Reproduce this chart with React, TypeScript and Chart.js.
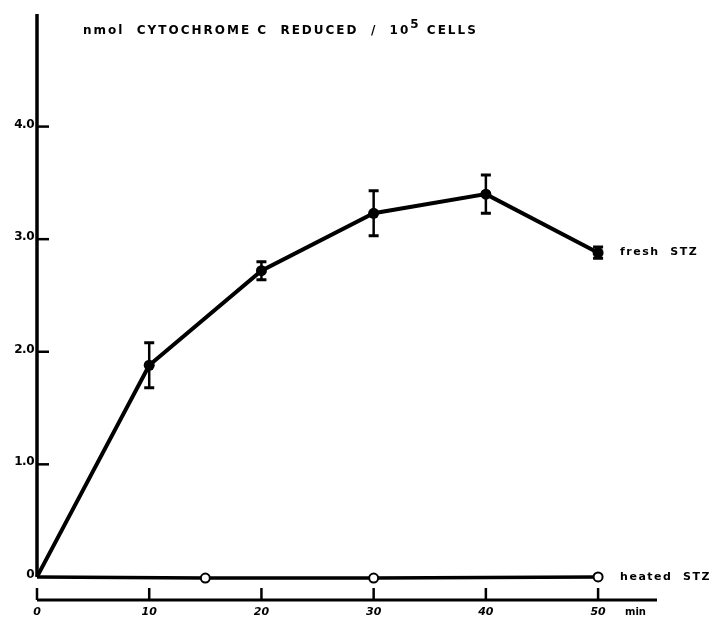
import { useEffect, useRef } from "react";
import { Chart, registerables } from "chart.js";

Chart.register(...registerables);

const times = [0, 10, 20, 30, 40, 50];
const freshValues = [0, 1.88, 2.72, 3.23, 3.4, 2.88];
const freshErrors = [0, 0.2, 0.08, 0.2, 0.17, 0.05];
const heatedTimes = [0, 15, 30, 50];
const heatedValues = [0, -0.01, -0.01, 0];
const yTicks = [0, 1, 2, 3, 4];
const yTickLabels = ["0", "1.0", "2.0", "3.0", "4.0"];
const xTicks = [0, 10, 20, 30, 40, 50];
const xTickLabels = ["0", "10", "20", "30", "40", "50"];
const xUnit = "min";
const freshLabel = "fresh  STZ";
const heatedLabel = "heated  STZ";

const FONT = '"DejaVu Sans", "Liberation Sans", Arial, sans-serif';

const axesPlugin = {
  id: "paperAxes",
  beforeDatasetsDraw(chart: any) {
    const ctx = chart.ctx as CanvasRenderingContext2D;
    const xs = chart.scales.x;
    const ys = chart.scales.y;
    const x0 = xs.getPixelForValue(0);
    ctx.save();
    ctx.strokeStyle = "#000";
    ctx.fillStyle = "#000";
    ctx.lineCap = "butt";
    // y axis
    ctx.lineWidth = 3.5;
    ctx.beginPath();
    ctx.moveTo(x0, ys.getPixelForValue(ys.max));
    ctx.lineTo(x0, ys.getPixelForValue(0));
    ctx.stroke();
    // y ticks
    ctx.lineWidth = 2.5;
    ctx.font = `bold 12px ${FONT}`;
    (ctx as any).letterSpacing = "-0.5px";
    ctx.textAlign = "right";
    ctx.textBaseline = "middle";
    yTicks.forEach((v, i) => {
      const py = ys.getPixelForValue(v);
      if (v !== 0) {
        ctx.beginPath();
        ctx.moveTo(x0, py);
        ctx.lineTo(x0 + 12, py);
        ctx.stroke();
      }
      ctx.fillText(yTickLabels[i], x0 - 3, py - 2);
    });
    (ctx as any).letterSpacing = "0px";
    // x axis
    const yb = ys.getPixelForValue(ys.min);
    ctx.lineWidth = 3;
    ctx.beginPath();
    ctx.moveTo(x0, yb);
    ctx.lineTo(xs.getPixelForValue(xs.max), yb);
    ctx.stroke();
    ctx.lineWidth = 2.5;
    ctx.font = `italic bold 11px ${FONT}`;
    ctx.textAlign = "center";
    ctx.textBaseline = "middle";
    xTicks.forEach((v, i) => {
      const px = xs.getPixelForValue(v);
      ctx.beginPath();
      ctx.moveTo(px, yb);
      ctx.lineTo(px, yb - 12);
      ctx.stroke();
      ctx.fillText(xTickLabels[i], px, yb + 12);
    });
    ctx.font = `bold 10px ${FONT}`;
    ctx.textAlign = "left";
    ctx.fillText(xUnit, xs.getPixelForValue(52.4), yb + 12);
    ctx.restore();
  },
  afterDatasetsDraw(chart: any) {
    const ctx = chart.ctx as CanvasRenderingContext2D;
    const xs = chart.scales.x;
    const ys = chart.scales.y;
    ctx.save();
    ctx.strokeStyle = "#000";
    ctx.lineCap = "butt";
    times.forEach((t, i) => {
      const e = freshErrors[i];
      if (!e) return;
      const px = xs.getPixelForValue(t);
      const top = ys.getPixelForValue(freshValues[i] + e);
      const bot = ys.getPixelForValue(freshValues[i] - e);
      ctx.lineWidth = 2.5;
      ctx.beginPath();
      ctx.moveTo(px, top);
      ctx.lineTo(px, bot);
      ctx.stroke();
      ctx.lineWidth = 3;
      ctx.beginPath();
      ctx.moveTo(px - 5, top);
      ctx.lineTo(px + 5, top);
      ctx.moveTo(px - 5, bot);
      ctx.lineTo(px + 5, bot);
      ctx.stroke();
    });
    ctx.fillStyle = "#000";
    ctx.font = `bold 11px ${FONT}`;
    (ctx as any).letterSpacing = "1.5px";
    ctx.textAlign = "left";
    ctx.textBaseline = "middle";
    const lx = xs.getPixelForValue(50) + 22;
    ctx.fillText(freshLabel, lx, ys.getPixelForValue(freshValues[5]) - 1);
    ctx.fillText(heatedLabel, lx, ys.getPixelForValue(heatedValues[3]));
    ctx.restore();
  },
};

export default function App() {
  const ref = useRef<HTMLCanvasElement | null>(null);
  useEffect(() => {
    document.body.style.margin = "0";
    const canvas = ref.current;
    if (!canvas) return;
    const chart = new Chart(canvas, {
      type: "line",
      data: {
        datasets: [
          {
            label: freshLabel,
            data: times.map((t, i) => ({ x: t, y: freshValues[i] })),
            borderColor: "#000",
            backgroundColor: "#000",
            borderWidth: 4,
            pointRadius: times.map((t) => (t === 0 ? 0 : 5.5)),
            pointBorderWidth: 0,
            pointBackgroundColor: "#000",
            tension: 0,
            clip: false,
          },
          {
            label: heatedLabel,
            data: heatedTimes.map((t, i) => ({ x: t, y: heatedValues[i] })),
            borderColor: "#000",
            backgroundColor: "#fff",
            borderWidth: 3.5,
            pointRadius: heatedTimes.map((t) => (t === 0 ? 0 : 4.5)),
            pointBorderWidth: 2,
            pointBorderColor: "#000",
            pointBackgroundColor: "#fff",
            tension: 0,
            clip: false,
          },
        ],
      },
      options: {
        animation: false,
        responsive: false,
        maintainAspectRatio: false,
        layout: { padding: { left: 37, top: 14, right: 52, bottom: 18 } },
        plugins: {
          legend: { display: false },
          tooltip: { enabled: false },
          title: { display: false },
        },
        scales: {
          x: { type: "linear", min: 0, max: 55.25, display: false },
          y: { type: "linear", min: -0.205, max: 5.0, display: false },
        },
      },
      plugins: [axesPlugin],
    });
    return () => chart.destroy();
  }, []);

  return (
    <div style={{ position: "relative", width: 709, height: 618, background: "#fff" }}>
      <canvas ref={ref} width={709} height={618} style={{ position: "absolute", left: 0, top: 0 }} />
      <div
        style={{
          position: "absolute",
          left: 83,
          top: 23,
          fontFamily: FONT,
          fontWeight: "bold",
          fontSize: 12,
          letterSpacing: "2px",
          whiteSpace: "pre",
          color: "#000",
          lineHeight: "15px",
        }}
      >
        nmol  CYTOCHROME C  REDUCED  /  10<sup style={{ fontSize: 12, verticalAlign: "6px", lineHeight: 0 }}>5</sup> CELLS
      </div>
    </div>
  );
}
